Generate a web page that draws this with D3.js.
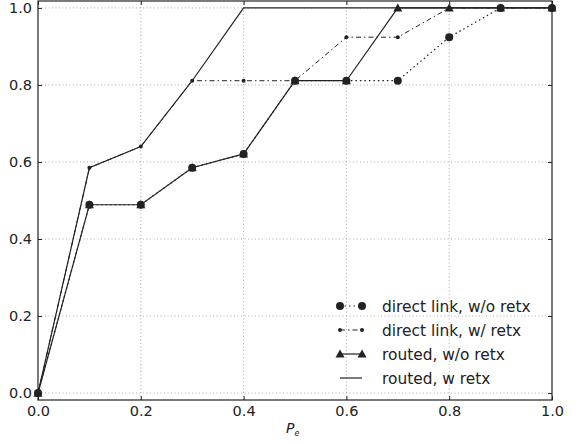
<!DOCTYPE html>
<html>
<head>
<meta charset="utf-8">
<script src="https://cdn.jsdelivr.net/npm/d3@7"></script>
<style>
  body { margin: 0; background: #fff; }
  text { font-family: "DejaVu Sans", sans-serif; fill: #222; }
</style>
</head>
<body>
<div id="chart"></div>
<script>
const pe = [0.0, 0.1, 0.2, 0.3, 0.4, 0.5, 0.6, 0.7, 0.8, 0.9, 1.0];
const directNoRetx = [0.0, 0.489, 0.489, 0.585, 0.621, 0.811, 0.811, 0.811, 0.924, 1.0, 1.0];
const directRetx = [0.0, 0.585, 0.64, 0.811, 0.811, 0.811, 0.924, 0.924, 1.0, 1.0, 1.0];
const routedNoRetx = [0.0, 0.489, 0.489, 0.585, 0.621, 0.811, 0.811, 1.0, 1.0, 1.0, 1.0];
const routedRetx = [0.0, 0.585, 0.64, 0.811, 1.0, 1.0, 1.0, 1.0, 1.0, 1.0, 1.0];
const xTicks = [0.0, 0.2, 0.4, 0.6, 0.8, 1.0];
const yTicks = [0.0, 0.2, 0.4, 0.6, 0.8, 1.0];
const legendLabels = ["direct link, w/o retx", "direct link, w/ retx", "routed, w/o retx", "routed, w retx"];

const width = 580, height = 444;
const margin = { left: 38, right: 28, top: 1, bottom: 44 };
const ink = "#222";

const svg = d3.select("#chart").append("svg")
    .attr("width", width)
    .attr("height", height);

const x = d3.scaleLinear().domain([0, 1]).range([margin.left, width - margin.right]);
const y = d3.scaleLinear().domain([-0.018, 1.018]).range([height - margin.bottom, margin.top]);

// grid
const grid = svg.append("g");
grid.selectAll(".gx").data(xTicks.slice(1, -1)).enter().append("line")
    .attr("x1", d => x(d)).attr("x2", d => x(d))
    .attr("y1", y.range()[0]).attr("y2", y.range()[1])
    .attr("stroke", "#999").attr("stroke-width", 0.8).attr("stroke-dasharray", "1,2.5");
grid.selectAll(".gy").data(yTicks).enter().append("line")
    .attr("x1", x.range()[0]).attr("x2", x.range()[1])
    .attr("y1", d => y(d)).attr("y2", d => y(d))
    .attr("stroke", "#999").attr("stroke-width", 0.8).attr("stroke-dasharray", "1,2.5");

// axes
svg.append("g")
    .attr("transform", `translate(0,${y.range()[0]})`)
    .call(d3.axisBottom(x).tickValues(xTicks).tickFormat(d3.format(".1f")).tickSizeInner(-4).tickSizeOuter(0).tickPadding(6));
svg.append("g")
    .attr("transform", `translate(${x.range()[0]},0)`)
    .call(d3.axisLeft(y).tickValues(yTicks).tickFormat(d3.format(".1f")).tickSizeInner(-4).tickSizeOuter(0).tickPadding(6));
svg.append("g")
    .attr("transform", `translate(0,${y.range()[1]})`)
    .call(d3.axisTop(x).tickValues(xTicks).tickFormat("").tickSizeInner(-4).tickSizeOuter(0));
svg.append("g")
    .attr("transform", `translate(${x.range()[1]},0)`)
    .call(d3.axisRight(y).tickValues(yTicks).tickFormat("").tickSizeInner(-4).tickSizeOuter(0));
svg.selectAll(".domain").remove();
svg.selectAll(".tick line").attr("stroke", ink);
svg.selectAll(".tick text").attr("font-size", 14.5).attr("fill", ink)
    .attr("font-family", "DejaVu Sans, sans-serif");

svg.append("rect")
    .attr("x", x.range()[0]).attr("y", y.range()[1])
    .attr("width", x.range()[1] - x.range()[0])
    .attr("height", y.range()[0] - y.range()[1])
    .attr("fill", "none").attr("stroke", ink).attr("stroke-width", 1.2);

// x label
const xl = svg.append("text")
    .attr("x", 286).attr("y", 433)
    .attr("font-family", "DejaVu Serif, serif")
    .attr("font-style", "italic")
    .attr("font-size", 14);
xl.append("tspan").text("P");
xl.append("tspan").attr("font-size", 8).attr("dy", 3).text("e");

// series
const series = [
    { vals: directNoRetx, dash: "1.5,3", width: 1.2, marker: "circle", size: 4 },
    { vals: directRetx, dash: "5,3,1.5,3", width: 1, marker: "circle", size: 2 },
    { vals: routedNoRetx, dash: null, width: 1.2, marker: "triangle", size: 4.5 },
    { vals: routedRetx, dash: null, width: 1.2, marker: null, size: 0 }
];

const lineBuilder = d3.line().x(d => x(d[0])).y(d => y(d[1]));
const g = svg.append("g");

function drawMarker(sel, m, size) {
    if (m === "circle") {
        sel.append("circle").attr("r", size).attr("fill", ink);
    } else if (m === "triangle") {
        sel.append("path")
            .attr("d", `M0,${-size}L${size},${size * 0.8}L${-size},${size * 0.8}Z`)
            .attr("fill", ink);
    }
}

// draw in reverse so the direct link markers sit on top
series.slice().reverse().forEach(s => {
    const pts = pe.map((p, i) => [p, s.vals[i]]);
    g.append("path")
        .attr("d", lineBuilder(pts))
        .attr("fill", "none")
        .attr("stroke", ink)
        .attr("stroke-width", s.width)
        .attr("stroke-dasharray", s.dash);
    if (s.marker) {
        pts.forEach(d => {
            const mg = g.append("g").attr("transform", `translate(${x(d[0])},${y(d[1])})`);
            drawMarker(mg, s.marker, s.size);
        });
    }
});

// legend
const legend = svg.append("g").attr("transform", "translate(340,306)");
series.forEach((s, i) => {
    const row = legend.append("g").attr("transform", `translate(0,${i * 24})`);
    row.append("line")
        .attr("x1", 0).attr("x2", 22)
        .attr("stroke", ink).attr("stroke-width", s.width)
        .attr("stroke-dasharray", s.dash);
    if (s.marker) {
        drawMarker(row.append("g"), s.marker, s.size);
        drawMarker(row.append("g").attr("transform", "translate(22,0)"), s.marker, s.size);
    }
    row.append("text")
        .attr("x", 42).attr("y", 5.5)
        .attr("font-size", 15.4)
        .text(legendLabels[i]);
});
</script>
</body>
</html>
